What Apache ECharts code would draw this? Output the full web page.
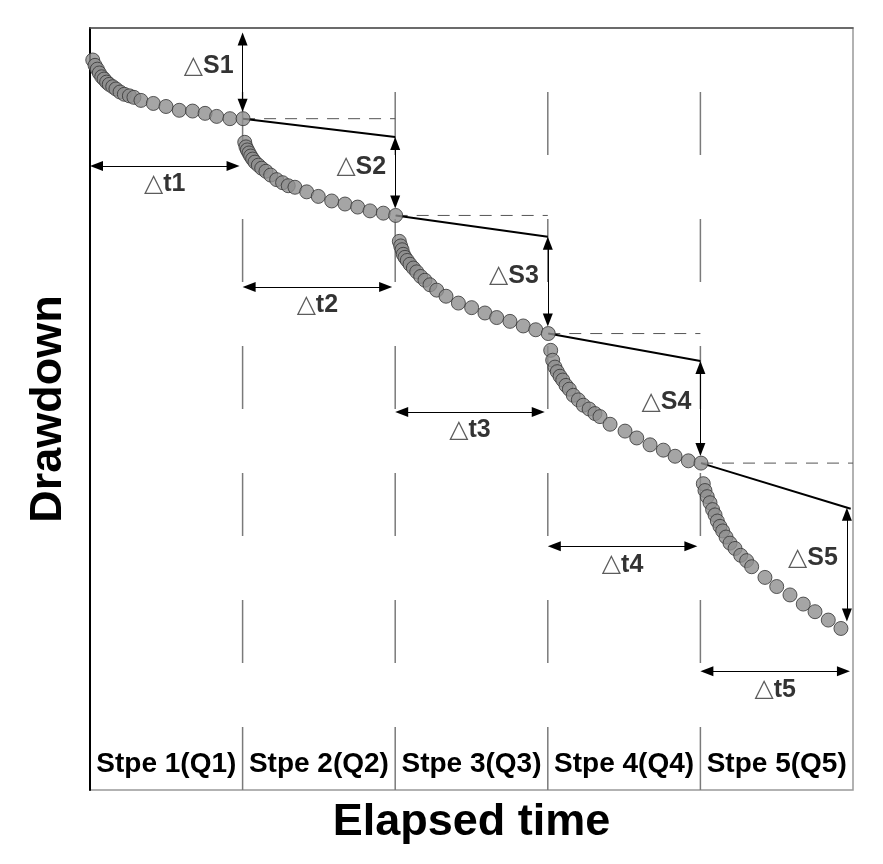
<!DOCTYPE html>
<html>
<head>
<meta charset="utf-8">
<title>Step drawdown test</title>
<script src="https://cdn.jsdelivr.net/npm/echarts@6/dist/echarts.min.js"></script>
<style>
  html, body { margin: 0; padding: 0; background: #fff; }
  #chart { width: 883px; height: 864px; }
</style>
</head>
<body>
<div id="chart"></div>
<script>
// step boundaries (elapsed time) and labels
const stepBounds = [0, 100, 200, 300, 400, 500]
const stepNames = ['Stpe 1(Q1)', 'Stpe 2(Q2)', 'Stpe 3(Q3)', 'Stpe 4(Q4)', 'Stpe 5(Q5)']

// measured drawdown points [time, drawdown] for each step
const step1 = [[1.8, 4.2], [3.3, 4.9], [4.8, 5.4], [6.1, 5.9], [7.7, 6.4], [9.2, 6.7], [10.9, 7.1], [12.6, 7.4], [14.9, 7.7], [17.0, 8.0], [19.7, 8.4], [22.5, 8.7], [25.8, 8.9], [28.8, 9.1], [33.4, 9.5], [41.5, 9.9], [49.8, 10.3], [58.5, 10.8], [67.2, 10.9], [75.4, 11.2], [83.0, 11.6], [91.7, 11.9], [100.3, 11.9]]
const step2 = [[101.4, 15.0], [102.2, 15.6], [103.1, 16.0], [104.2, 16.4], [105.3, 16.8], [106.6, 17.2], [108.1, 17.6], [110.3, 18.0], [112.5, 18.4], [115.3, 18.8], [118.4, 19.3], [122.3, 19.9], [126.2, 20.3], [129.9, 20.7], [134.3, 20.9], [142.0, 21.5], [149.6, 22.1], [158.4, 22.7], [167.1, 23.1], [175.4, 23.5], [183.5, 24.0], [192.2, 24.3], [200.3, 24.6]]
const step3 = [[202.7, 28.0], [203.6, 28.6], [204.5, 29.1], [205.3, 29.7], [206.4, 30.1], [207.9, 30.5], [209.7, 31.0], [211.9, 31.5], [214.1, 32.0], [216.7, 32.6], [219.5, 33.1], [222.8, 33.7], [227.2, 34.4], [233.3, 35.2], [241.4, 36.1], [250.1, 36.7], [258.8, 37.4], [266.5, 38.0], [275.2, 38.5], [283.9, 39.1], [292.1, 39.6], [300.3, 40.1]]
const step4 = [[301.9, 42.3], [303.2, 43.6], [304.7, 44.5], [306.2, 45.1], [308.0, 45.7], [309.8, 46.2], [311.9, 46.9], [314.1, 47.4], [316.7, 48.2], [320.0, 48.8], [323.3, 49.5], [327.1, 50.0], [330.9, 50.6], [334.2, 51.0], [340.8, 52.0], [350.6, 52.9], [358.3, 53.8], [367.0, 54.7], [375.7, 55.4], [383.4, 56.2], [392.1, 56.8], [400.4, 57.1]]
const step5 = [[401.9, 59.8], [403.0, 60.7], [404.5, 61.5], [406.3, 62.3], [408.0, 63.2], [409.6, 63.9], [411.1, 64.7], [412.8, 65.4], [414.6, 66.0], [416.8, 66.8], [419.4, 67.6], [422.7, 68.3], [426.4, 69.2], [430.3, 69.9], [433.6, 70.7], [442.3, 72.1], [450.0, 73.3], [458.7, 74.4], [467.4, 75.6], [475.1, 76.6], [483.8, 77.7], [492.1, 78.8]]
const steps = [step1, step2, step3, step4, step5]

// straight-line extension of each step to the next boundary
const extrapEnd = [[200, 14.3], [300, 27.4], [400, 43.7], [498.5, 63.1]]

// where the ΔS arrows stand (time) and where the Δt arrows sit (drawdown)
const dsTime = [100, 200, 300, 400, 496]
const dtLevel = [18.1, 34.0, 50.4, 68.0, 84.4]

const chart = echarts.init(document.getElementById('chart'))

// pixel sizes -> axis units (grid is 763px wide for 500, 762px high for 100)
const pxX = 763 / 500
const pxY = 762 / 100
const dotSize = 14
const headLen = 13
const font = 'Liberation Sans, Arial, sans-serif'

function lastOf(arr) { return arr[arr.length - 1] }

// value of step i straight line at time t
function lineAt(i, t) {
  const p0 = lastOf(steps[i])
  const p1 = extrapEnd[i]
  return p0[1] + (p1[1] - p0[1]) * (t - p0[0]) / (p1[0] - p0[0])
}

const series = []

// vertical step dividers
stepBounds.slice(1, 5).forEach((b) => {
  series.push({
    type: 'line', silent: true, symbol: 'none', animation: false,
    data: [[b, 100], [b, 0]],
    lineStyle: { color: '#7a7a7a', width: 1.5, type: [63, 64] },
    z: 1,
  })
})

// horizontal dashed references and straight extensions
steps.slice(0, 4).forEach((st, i) => {
  const e = lastOf(st)
  series.push({
    type: 'line', silent: true, symbol: 'none', animation: false,
    data: [e, [stepBounds[i + 2], e[1]]],
    lineStyle: { color: '#555', width: 1, type: [12, 9] },
    z: 2,
  })
  series.push({
    type: 'line', silent: true, symbol: 'none', animation: false,
    data: [e, extrapEnd[i]],
    lineStyle: { color: '#000', width: 2 },
    z: 3,
  })
})

// arrows: markLine symbols sit centred on the ends, so pull ends in by half a head
const arrows = []
const dsLabels = []
const dtLabels = []
const insetY = headLen / 2 / pxY
const insetX = headLen / 2 / pxX
dsTime.forEach((t, i) => {
  const top = i === 0 ? 0.6 : lineAt(i - 1, t)
  const bottom = lastOf(steps[i])[1] - dotSize / 2 / pxY
  arrows.push([{ coord: [t, top + insetY] }, { coord: [t, bottom - insetY] }])
  dsLabels.push({ value: [t, (top + bottom) / 2], name: 'S' + (i + 1) })
})
dtLevel.forEach((s, i) => {
  const t0 = stepBounds[i]
  const t1 = stepBounds[i + 1] - 2
  arrows.push([{ coord: [t0 + insetX, s] }, { coord: [t1 - insetX, s] }])
  dtLabels.push({ value: [(t0 + t1) / 2, s], name: 't' + (i + 1) })
})

series.push({
  type: 'line', silent: true, data: [], animation: false,
  markLine: {
    silent: true, animation: false,
    symbol: ['triangle', 'triangle'],
    symbolSize: [10, headLen],
    label: { show: false },
    lineStyle: { color: '#000', width: 1, type: 'solid' },
    data: arrows,
  },
  z: 4,
})

// drawdown points
series.push({
  type: 'scatter', silent: true, animation: false,
  data: [].concat(...steps),
  symbolSize: dotSize,
  itemStyle: { color: '#8e8e8e', borderColor: '#333', borderWidth: 1 },
  z: 5,
})

const richText = {
  tri: { fontFamily: 'DejaVu Sans', fontSize: 25, color: '#333', fontWeight: 'normal' },
  b: { fontFamily: font, fontSize: 25, fontWeight: 'bold', color: '#000' },
}

series.push({
  type: 'scatter', silent: true, animation: false,
  data: dsLabels, symbolSize: 0,
  label: {
    show: true, position: 'left', distance: 9, offset: [0, -6],
    formatter: (p) => '{tri|△}{b|' + p.name + '}',
    rich: richText,
  },
  z: 6,
})
series.push({
  type: 'scatter', silent: true, animation: false,
  data: dtLabels, symbolSize: 0,
  label: {
    show: true, position: 'bottom', distance: 6,
    formatter: (p) => '{tri|△}{b|' + p.name + '}',
    rich: richText,
  },
  z: 6,
})

const option = {
  animation: false,
  grid: {
    left: 90, right: 30, top: 28, bottom: 74,
    show: true, borderColor: '#999', borderWidth: 1.5,
  },
  xAxis: [
    {
      type: 'value', min: 0, max: 500,
      name: 'Elapsed time', nameLocation: 'middle', nameGap: 10,
      nameTextStyle: { fontFamily: font, fontSize: 45, fontWeight: 'bold', color: '#000', verticalAlign: 'top' },
      axisLine: { show: true, lineStyle: { color: '#555', width: 1.5 } },
      axisTick: { show: false }, axisLabel: { show: false }, splitLine: { show: false },
    },
    {
      type: 'category', data: stepNames, position: 'bottom',
      axisLine: { show: false }, axisTick: { show: false }, splitLine: { show: false },
      axisLabel: {
        inside: true, margin: 12, interval: 0,
        fontFamily: font, fontSize: 28, fontWeight: 'bold', color: '#000',
      },
    },
  ],
  yAxis: {
    type: 'value', min: 0, max: 100, inverse: true,
    name: 'Drawdown', nameLocation: 'middle', nameGap: 19, nameRotate: 90,
    nameTextStyle: { fontFamily: font, fontSize: 45, fontWeight: 'bold', color: '#000' },
    axisLine: { show: true, lineStyle: { color: '#000', width: 2 } },
    axisTick: { show: false }, axisLabel: { show: false }, splitLine: { show: false },
  },
  series: series,
}

chart.setOption(option)
</script>
</body>
</html>
